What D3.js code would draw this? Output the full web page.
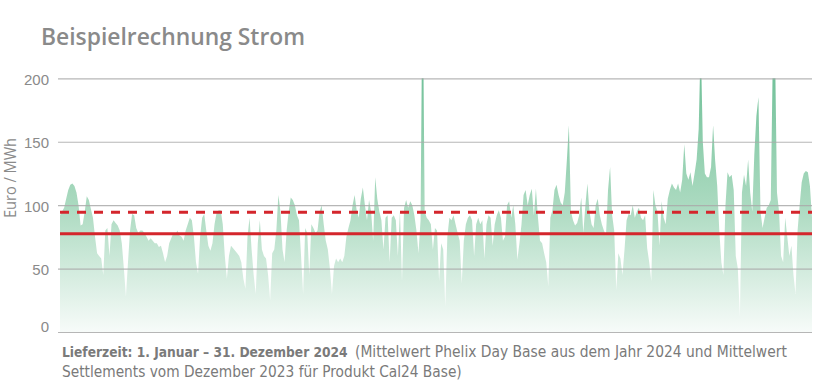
<!DOCTYPE html>
<html>
<head>
<meta charset="utf-8">
<script src="https://cdn.jsdelivr.net/npm/d3@7"></script>
<style>
  html, body { margin: 0; padding: 0; background: #fff; }
  svg { display: block; font-family: "Open Sans", "Noto Sans", sans-serif; }
</style>
</head>
<body>
<div id="chart"></div>
<script>
// Tagespreise Phelix Day Base 2024 (Euro/MWh)
const prices = [
  92, 95, 98, 105, 112, 116, 117, 115, 110, 100, 84, 85, 95, 107, 104, 97, 90, 75, 62, 60,
  58, 45, 80, 82, 60, 85, 88, 86, 84, 80, 70, 50, 28, 55, 80, 93, 92, 82, 78, 80,
  80, 78, 75, 72, 74, 72, 70, 70, 67, 68, 62, 55, 60, 70, 74, 78, 77, 80, 76, 75,
  72, 80, 85, 90, 88, 75, 55, 46, 75, 90, 93, 80, 68, 64, 70, 85, 94, 96, 96, 85,
  60, 42, 60, 68, 66, 64, 62, 60, 55, 42, 34, 75, 90, 65, 45, 30, 70, 88, 65, 60,
  58, 45, 25, 62, 65, 80, 108, 95, 65, 55, 80, 95, 106, 104, 100, 92, 88, 60, 30, 82,
  78, 45, 85, 82, 78, 80, 95, 100, 85, 72, 65, 50, 30, 52, 58, 55, 58, 55, 60, 75,
  82, 88, 100, 108, 96, 90, 105, 114, 100, 88, 104, 95, 72, 122, 105, 95, 88, 65, 90, 92,
  55, 90, 92, 88, 60, 95, 40, 98, 104, 98, 103, 100, 92, 80, 62, 88, 290, 95, 90, 88,
  85, 65, 82, 80, 40, 70, 65, 20, 75, 90, 88, 92, 85, 78, 72, 38, 72, 85, 90, 92,
  88, 60, 85, 90, 85, 88, 58, 85, 92, 90, 68, 85, 92, 96, 90, 72, 75, 100, 103, 90,
  100, 85, 57, 70, 85, 108, 112, 100, 108, 113, 92, 113, 90, 72, 70, 62, 55, 36, 90, 96,
  112, 116, 108, 102, 100, 110, 135, 163, 95, 88, 84, 86, 92, 106, 78, 100, 117, 95, 85, 82,
  100, 105, 92, 85, 80, 76, 112, 130, 92, 80, 33, 62, 58, 45, 65, 88, 93, 92, 100, 90,
  95, 98, 90, 88, 92, 66, 55, 40, 112, 100, 95, 68, 103, 90, 85, 105, 112, 117, 114, 112,
  117, 110, 120, 148, 125, 120, 126, 115, 125, 136, 160, 230, 150, 125, 122, 122, 130, 163, 135, 115,
  80, 55, 45, 100, 126, 122, 124, 112, 60, 50, 12, 110, 124, 115, 136, 110, 95, 140, 170, 185,
  95, 82, 90, 98, 100, 104, 220, 230, 110, 95, 60, 55, 90, 75, 60, 68, 45, 30, 80, 100,
  118, 125, 127, 126, 115, 90
];
const days = d3.timeDay.range(new Date(2024, 0, 1), new Date(2025, 0, 1));

// Vergleichslinien
const refLabels = ["Mittelwert Phelix Day Base 2024", "Mittelwert Settlements Cal24 Base"];
const refValues = [77.4, 94.4];
const refDashed = [false, true];

const yTicks = [0, 50, 100, 150, 200];
const yLabel = "Euro / MWh";
const title = "Beispielrechnung Strom";
const captionBold = "Lieferzeit: 1. Januar – 31. Dezember 2024";
const captionRest = "(Mittelwert Phelix Day Base aus dem Jahr 2024 und Mittelwert";
const captionLine2 = "Settlements vom Dezember 2023 für Produkt Cal24 Base)";

const data = days.map((d, i) => ({ date: d, value: prices[i] }));

const width = 820;
const height = 390;
const margin = { top: 78.3, right: 8, bottom: 58, left: 60 };
const captionFont = "'Liberation Sans Narrow', 'DejaVu Sans Condensed', 'Noto Sans', sans-serif";

const svg = d3.select("#chart")
  .append("svg")
  .attr("width", width)
  .attr("height", height)
  .attr("viewBox", `0 0 ${width} ${height}`);

// Schriftgröße so wählen, dass der Text die gewünschte Breite hat
function fitWidth(sel, target) {
  const node = sel.node();
  const size = parseFloat(sel.style("font-size"));
  const w = node.getComputedTextLength();
  if (w > 0) sel.style("font-size", (size * target / w).toFixed(2) + "px");
  return sel;
}

const xScale = d3.scaleTime()
  .domain(d3.extent(days))
  .range([margin.left, width - margin.right]);

const yScale = d3.scaleLinear()
  .domain([0, 200])
  .range([height - margin.bottom, margin.top]);

// Verlauf für die Fläche
const defs = svg.append("defs");
const grad = defs.append("linearGradient")
  .attr("id", "areaFill")
  .attr("gradientUnits", "userSpaceOnUse")
  .attr("x1", 0).attr("x2", 0)
  .attr("y1", yScale(200)).attr("y2", yScale(0));
grad.append("stop").attr("offset", "0%").attr("stop-color", "#74c29b");
grad.append("stop").attr("offset", "50%").attr("stop-color", "#abdac0");
grad.append("stop").attr("offset", "100%").attr("stop-color", "#f7fbf9");

defs.append("clipPath")
  .attr("id", "plotClip")
  .append("rect")
  .attr("x", margin.left)
  .attr("y", yScale(200))
  .attr("width", width - margin.right - margin.left)
  .attr("height", yScale(0) - yScale(200));

const area = d3.area()
  .x(d => xScale(d.date))
  .y0(yScale(0))
  .y1(d => yScale(d.value));

svg.append("path")
  .datum(data)
  .attr("clip-path", "url(#plotClip)")
  .attr("fill", "url(#areaFill)")
  .attr("d", area);

// Gitterlinien + Achsenbeschriftung
const yAxis = d3.axisLeft(yScale)
  .tickValues(yTicks)
  .tickSize(-(width - margin.right - 58))
  .tickPadding(9);

const gy = svg.append("g")
  .attr("transform", "translate(58,0)")
  .call(yAxis);

gy.select(".domain").remove();
gy.selectAll("line")
  .attr("stroke", "#a9a9a9")
  .attr("stroke-opacity", 0.85)
  .attr("stroke-width", 1.2);
gy.selectAll("text")
  .attr("fill", "#8a8a8a")
  .style("font-size", "15px")
  .attr("dy", d => d === 0 ? "-0.05em" : "0.4em");

// Rote Mittelwertlinien
svg.selectAll(".ref")
  .data(refValues)
  .enter()
  .append("line")
  .attr("class", "ref")
  .attr("x1", margin.left)
  .attr("x2", width - margin.right)
  .attr("y1", d => yScale(d))
  .attr("y2", d => yScale(d))
  .attr("stroke", "#d4262c")
  .attr("stroke-width", 3)
  .attr("stroke-dasharray", (d, i) => refDashed[i] ? "9,8" : null);

// Titel
svg.append("text")
  .attr("x", 41)
  .attr("y", 45)
  .attr("fill", "#8a8a8a")
  .style("font-size", "24px")
  .style("font-weight", 600)
  .attr("textLength", 264)
  .attr("lengthAdjust", "spacingAndGlyphs")
  .text(title);

// y-Achsentitel
svg.append("text")
  .attr("transform", "translate(16,178) rotate(-90)")
  .attr("text-anchor", "middle")
  .attr("fill", "#8a8a8a")
  .style("font-size", "16px")
  .attr("textLength", 80)
  .attr("lengthAdjust", "spacingAndGlyphs")
  .text(yLabel);

// Fußnote
const capBold = svg.append("text")
  .attr("x", 62)
  .attr("y", 357)
  .attr("fill", "#7a7a7a")
  .style("font-family", captionFont)
  .style("font-size", "16px")
  .style("font-weight", 700)
  .text(captionBold);
fitWidth(capBold, 286);

const capRest = svg.append("text")
  .attr("x", 355)
  .attr("y", 357)
  .attr("fill", "#7a7a7a")
  .style("font-family", captionFont)
  .style("font-size", "16px")
  .text(captionRest);
fitWidth(capRest, 432);

const capLine2 = svg.append("text")
  .attr("x", 62)
  .attr("y", 377)
  .attr("fill", "#7a7a7a")
  .style("font-family", captionFont)
  .style("font-size", "16px")
  .text(captionLine2);
fitWidth(capLine2, 400);
</script>
</body>
</html>
